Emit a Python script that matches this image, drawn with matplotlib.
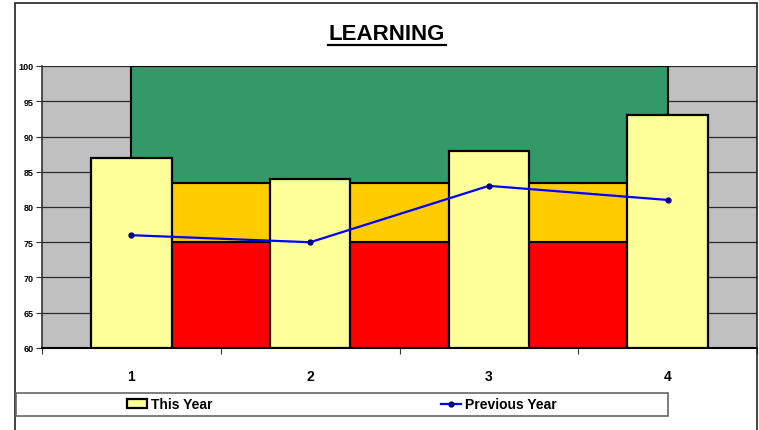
import matplotlib
matplotlib.use("Agg")
import matplotlib.pyplot as plt
from matplotlib.patches import Rectangle
from matplotlib.lines import Line2D
import numpy as np

plt.rcParams['font.family'] = ['Liberation Sans', 'DejaVu Sans']

categories = ["1", "2", "3", "4"]
this_year = [87, 84, 88, 93]
previous_year = [76, 75, 83, 81]
# performance bands (stacked area)
band_red = [75, 75, 75, 75]
band_orange = [8.4, 8.4, 8.4, 8.4]
band_green = [16.6, 16.6, 16.6, 16.6]
y_ticks = [60, 65, 70, 75, 80, 85, 90, 95, 100]
title = "LEARNING"

W, H = 759, 431
fig = plt.figure(figsize=(W / 100, H / 100), dpi=100)
fig.patch.set_facecolor("white")

# plot area in pixel coords
L, R, T, B = 42, 757, 67, 349
ax = fig.add_axes([L / W, (H - B) / H, (R - L) / W, (B - T) / H])
ax.set_facecolor("#C0C0C0")

x = np.arange(1, len(categories) + 1)
base = 60
red_top = np.array(band_red, dtype=float)
orange_top = red_top + np.array(band_orange)
green_top = orange_top + np.array(band_green)

ax.fill_between(x, base, red_top, facecolor="#FF0000", edgecolor="black", linewidth=1.5, zorder=2)
ax.fill_between(x, red_top, orange_top, facecolor="#FFCC00", edgecolor="black", linewidth=1.5, zorder=2)
ax.fill_between(x, orange_top, green_top, facecolor="#339966", edgecolor="black", linewidth=1.5, zorder=2)

bars = ax.bar(x, np.array(this_year) - base, bottom=base, width=0.45, color="#FFFF99",
              edgecolor="black", linewidth=1.6, zorder=3, label="This Year")
line, = ax.plot(x, previous_year, color="#0000FF", linewidth=1.6, marker="o", markersize=3.5,
                markerfacecolor="#000080", markeredgecolor="#000080", zorder=4, label="Previous Year")

ax.set_xlim(0.5, len(categories) + 0.5)
ax.set_ylim(60, 100)
ax.set_yticks(y_ticks)
ax.set_yticklabels([str(v) for v in y_ticks], fontsize=6.5, fontweight="bold")
ax.set_xticks(x)
ax.set_xticklabels(categories, fontsize=10, fontweight="bold")
ax.tick_params(axis="x", which="major", length=0, pad=15)
ax.set_xticks(np.arange(0.5, len(categories) + 1, 1.0), minor=True)
ax.tick_params(axis="x", which="minor", length=4, width=0.8, direction="out", color="#333333")
ax.tick_params(axis="y", length=4, width=0.8, direction="out", pad=2, color="#333333")

ax.yaxis.grid(True, color="#2a2a2a", linewidth=0.9, zorder=1)
ax.set_axisbelow(True)
for s in ["top", "right"]:
    ax.spines[s].set_visible(False)
ax.spines["left"].set_color("#333333")
ax.spines["bottom"].set_color("black")
ax.spines["left"].set_linewidth(1.2)
ax.spines["bottom"].set_linewidth(1.5)

# title with underline
fig.text(387 / W, (H - 34) / H, title, ha="center", va="center",
         fontsize=16, fontweight="bold")
fig.add_artist(Line2D([328 / W, 446 / W], [(H - 45.5) / H] * 2, color="black", linewidth=1.6))

# chart border
fig.add_artist(Rectangle((15 / W, -0.05), (757 - 15) / W, (H - 4) / H + 0.05,
                         transform=fig.transFigure, fill=False, edgecolor="#222222", linewidth=1.2))

# legend box
fig.add_artist(Rectangle((16 / W, (H - 417) / H), (668 - 16) / W, 23 / H,
                         transform=fig.transFigure, fill=False, edgecolor="#666666", linewidth=1.2))
fig.legend([bars, line], ["This Year", "Previous Year"], ncol=2, loc="center",
           bbox_to_anchor=(342 / W, (H - 405.5) / H), frameon=False,
           prop={"size": 10, "weight": "bold"}, handlelength=1.45, handleheight=0.6,
           handletextpad=0.3, columnspacing=16.45, borderpad=0)

fig.savefig("out.png", dpi=100, facecolor="white")
